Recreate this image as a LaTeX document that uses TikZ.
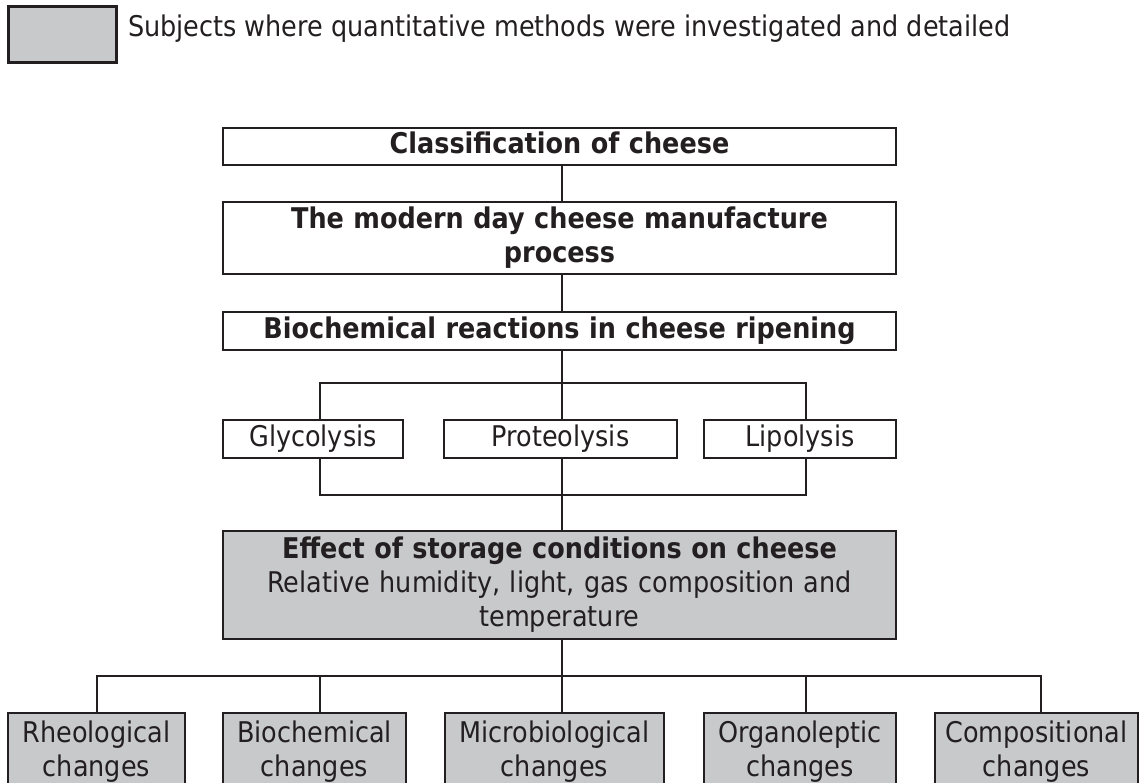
\documentclass[tikz,border=0pt]{standalone}
\usepackage{fontspec}
\setmainfont{DejaVu Sans}[FakeStretch=0.895]
\definecolor{ink}{RGB}{35,31,32}
\definecolor{boxgray}{RGB}{200,201,203}
\newcommand\lnstrut{\rule[-7pt]{0pt}{29pt}}
\begin{document}
\begin{tikzpicture}[x=1pt,y=-1pt,
  every node/.style={text=ink, font=\fontsize{28.5}{34}\selectfont},
  plainbox/.style={draw=ink, line width=2.4pt, fill=white, inner sep=0pt, align=center},
  graybox/.style={plainbox, fill=boxgray},
  link/.style={draw=ink, line width=2pt}]
\useasboundingbox (0,0) rectangle (1140,783);
\fill[white] (0,0) rectangle (1140,783);
\clip (0,0) rectangle (1140,783);

% legend
\node[graybox, minimum width=108pt, minimum height=56pt, line width=3pt] (key) at (62,35) {};
\node[anchor=base west, inner sep=0pt] (keytext) at (128,37) {Subjects where quantitative methods were investigated and detailed};

% main column
\node[plainbox, text width=673pt, minimum height=37pt] (c1) at (559.5,146.5) {\lnstrut\textbf{Classification of cheese}};
\node[plainbox, text width=673pt, minimum height=72pt] (c2) at (559.5,238) {\lnstrut\textbf{The modern day cheese manufacture}\\\lnstrut\textbf{process}};
\node[plainbox, text width=673pt, minimum height=38pt] (c3) at (559.5,331) {\lnstrut\textbf{Biochemical reactions in cheese ripening}};

\node[plainbox, text width=180pt, minimum height=38pt] (gly) at (313,439) {\lnstrut Glycolysis};
\node[plainbox, text width=233pt, minimum height=38pt] (pro) at (560.5,439) {\lnstrut Proteolysis};
\node[plainbox, text width=192pt, minimum height=38pt] (lip) at (800,439) {\lnstrut Lipolysis};

\node[graybox, text width=673pt, minimum height=108pt] (eff) at (559.5,585) {\lnstrut\textbf{Effect of storage conditions on cheese}\\\lnstrut Relative humidity, light, gas composition and\\\lnstrut temperature};

% bottom row
\node[graybox, anchor=north, text width=177pt, inner ysep=7pt] (rheo) at (96.5,712) {\lnstrut Rheological\\\lnstrut changes};
\node[graybox, anchor=north, text width=183pt, inner ysep=7pt] (bio) at (314.5,712) {\lnstrut Biochemical\\\lnstrut changes};
\node[graybox, anchor=north, text width=219pt, inner ysep=7pt] (mic) at (554.5,712) {\lnstrut Microbiological\\\lnstrut changes};
\node[graybox, anchor=north, text width=192pt, inner ysep=7pt] (org) at (800,712) {\lnstrut Organoleptic\\\lnstrut changes};
\node[graybox, anchor=north, text width=203pt, inner ysep=7pt] (com) at (1036.5,712) {\lnstrut Compositional\\\lnstrut changes};

% junction points
\coordinate (axis) at (562,0);
\coordinate (tl) at (320,383);
\coordinate (ta) at (562,383);
\coordinate (tr) at (806,383);
\coordinate (bl) at (320,495);
\coordinate (ba) at (562,495);
\coordinate (br) at (806,495);
\coordinate (j1) at (97,676);
\coordinate (j2) at (320,676);
\coordinate (ja) at (562,676);
\coordinate (j4) at (806,676);
\coordinate (j5) at (1041,676);

% connectors
\draw[link] (c1.south -| axis) -- (c2.north -| axis);
\draw[link] (c2.south -| axis) -- (c3.north -| axis);
\draw[link] (c3.south -| axis) -- (ta);
\draw[link] (tl |- gly.north) -- (tl) -- (tr) -- (tr |- lip.north);
\draw[link] (ta) -- (pro.north -| ta);
\draw[link] (tl |- gly.south) -- (bl) -- (br) -- (br |- lip.south);
\draw[link] (pro.south -| ba) -- (ba) -- (eff.north -| ba);
\draw[link] (eff.south -| ja) -- (ja);
\draw[link] (j1 |- rheo.north) -- (j1) -- (j5) -- (j5 |- com.north);
\draw[link] (j2) -- (j2 |- bio.north);
\draw[link] (ja) -- (ja |- mic.north);
\draw[link] (j4) -- (j4 |- org.north);
\end{tikzpicture}
\end{document}
